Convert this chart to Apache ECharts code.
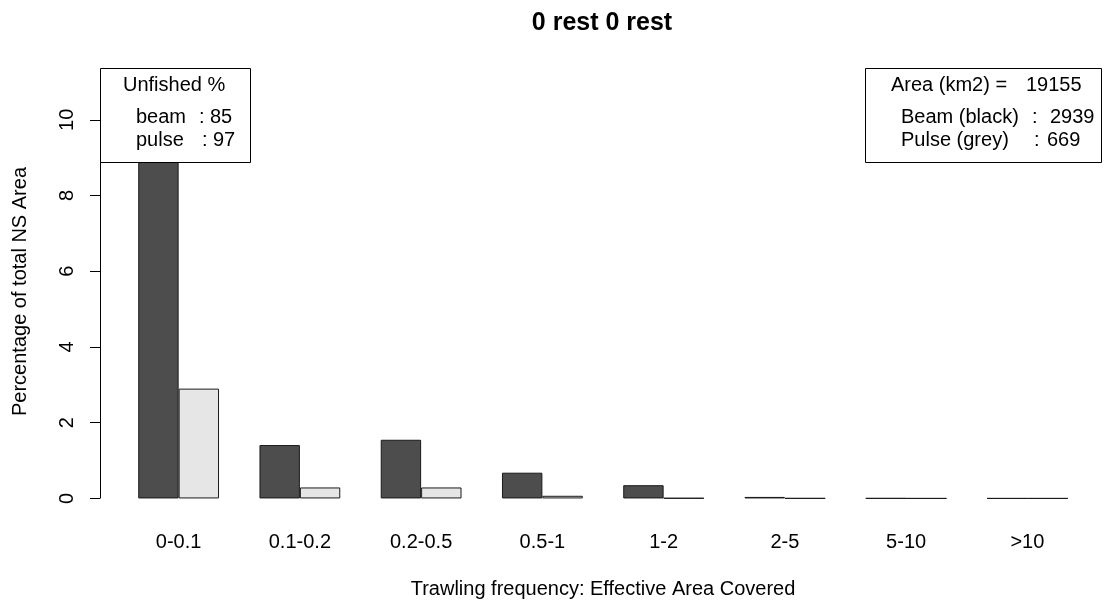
<!DOCTYPE html>
<html><head><meta charset="utf-8">
<script src="https://cdn.jsdelivr.net/npm/echarts@6/dist/echarts.min.js"></script>
<style>html,body{margin:0;padding:0;background:#fff}#c{width:1105px;height:603px}</style>
</head><body><div id="c"></div>
<script>
var categories = ['0-0.1','0.1-0.2','0.2-0.5','0.5-1','1-2','2-5','5-10','>10'];
var beamValues = [10.93, 1.41, 1.55, 0.68, 0.35, 0.04, 0.004, 0.002];
var pulseValues = [2.90, 0.29, 0.29, 0.07, 0.01, 0.004, 0.002, 0.002];
var yTicks = [0, 2, 4, 6, 8, 10];
var titleText = '0 rest 0 rest';
var xTitle = 'Trawling frequency: Effective Area Covered';
var yTitle = 'Percentage of total NS Area';
var leftLegendTitle = 'Unfished %';
var leftLegendRows = [['beam', ':', '85'], ['pulse', ':', '97']];
var rightLegendTitle = ['Area (km2) =', '19155'];
var rightLegendRows = [['Beam (black)', ':', '2939'], ['Pulse (grey)', ':', '669']];

var FONT = 'Liberation Sans, Arial, sans-serif';
var yMaxData = Math.max.apply(null, beamValues);
var yMin = -0.04 * yMaxData, yMax = 1.04 * yMaxData;

var chart = echarts.init(document.getElementById('c'), null, {renderer: 'canvas'});
var option = {
  animation: false,
  backgroundColor: '#fff',
  title: {text: titleText, left: 597, top: 6, textAlign: 'center',
    textStyle: {fontFamily: FONT, fontSize: 25, fontWeight: 'bold', color: '#000'}},
  grid: {left: 118, right: 17, top: 68, bottom: 88, containLabel: false, outerBoundsMode: 'none'},
  xAxis: {
    type: 'category', data: categories,
    axisLine: {show: false}, axisTick: {show: false},
    axisLabel: {fontFamily: FONT, fontSize: 20, color: '#000', margin: 17},
    name: xTitle, nameLocation: 'middle', nameGap: 64,
    nameTextStyle: {fontFamily: FONT, fontSize: 20, color: '#000'}
  },
  yAxis: {
    type: 'value', min: yMin, max: yMax, offset: 18,
    axisLine: {show: false},
    axisTick: {show: true, length: 10, lineStyle: {color: '#000'}, customValues: yTicks},
    axisLabel: {fontFamily: FONT, fontSize: 20, color: '#000', rotate: 90, margin: 33,
      customValues: yTicks, verticalAlign: 'middle', align: 'center'},
    splitLine: {show: false},
    name: yTitle, nameLocation: 'middle', nameGap: 70,
    nameTextStyle: {fontFamily: FONT, fontSize: 20, color: '#000'}
  },
  series: [
    {type: 'bar', name: 'beam', data: beamValues, barWidth: 40.4, barGap: '0%',
      itemStyle: {color: '#4d4d4d', borderColor: '#1a1a1a', borderWidth: 1}},
    {type: 'bar', name: 'pulse', data: pulseValues, barWidth: 40.4,
      itemStyle: {color: '#e6e6e6', borderColor: '#1a1a1a', borderWidth: 1}}
  ]
};
chart.setOption(option);

var y0 = chart.convertToPixel({yAxisIndex: 0}, 0);
var y10 = chart.convertToPixel({yAxisIndex: 0}, yTicks[yTicks.length - 1]);
var graphics = [
  {type: 'line', shape: {x1: 100.5, y1: y0, x2: 100.5, y2: y10}, style: {stroke: '#000', lineWidth: 1}, z: 10},
  {type: 'rect', shape: {x: 100.5, y: 68.5, width: 150, height: 94}, style: {fill: '#fff', stroke: '#000', lineWidth: 1}, z: 15},
  {type: 'rect', shape: {x: 865.5, y: 68.5, width: 236, height: 94}, style: {fill: '#fff', stroke: '#000', lineWidth: 1}, z: 15}
];
function T(x, y, s) {
  graphics.push({type: 'text', x: x, y: y, z: 20,
    style: {text: s, fontFamily: FONT, fontSize: 20, fill: '#000', verticalAlign: 'middle', align: 'left'}});
}
T(123, 85, leftLegendTitle);
T(136, 117, leftLegendRows[0][0]); T(199, 117, leftLegendRows[0][1]); T(210, 117, leftLegendRows[0][2]);
T(136, 140, leftLegendRows[1][0]); T(202, 140, leftLegendRows[1][1]); T(213, 140, leftLegendRows[1][2]);
T(891, 85, rightLegendTitle[0]); T(1026, 85, rightLegendTitle[1]);
T(901, 117, rightLegendRows[0][0]); T(1032, 117, rightLegendRows[0][1]); T(1050, 117, rightLegendRows[0][2]);
T(901, 140, rightLegendRows[1][0]); T(1034, 140, rightLegendRows[1][1]); T(1047, 140, rightLegendRows[1][2]);
chart.setOption({graphic: graphics});
</script></body></html>
